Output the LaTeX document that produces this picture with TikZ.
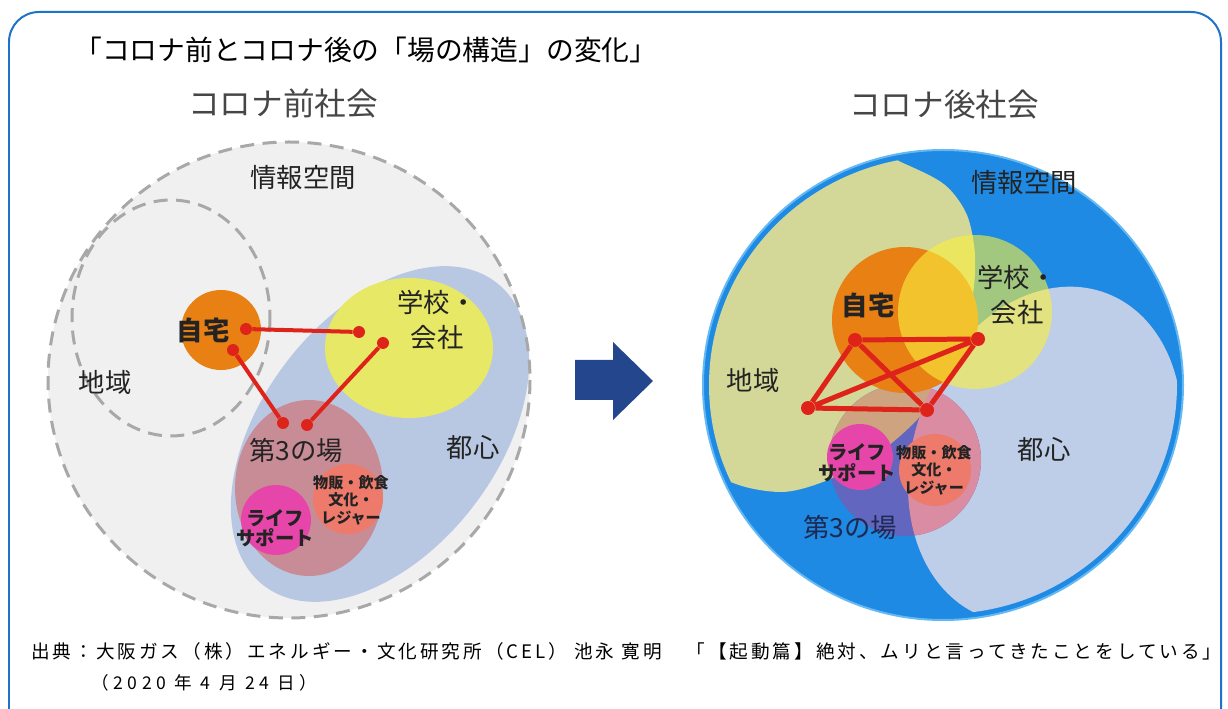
\documentclass[tikz,border=0pt]{standalone}
\usepackage{fontspec}
\setmainfont{Noto Sans CJK JP}
\usetikzlibrary{positioning}

\definecolor{framecol}{RGB}{30,115,200}
\definecolor{txtcol}{RGB}{35,35,35}
\definecolor{headcol}{RGB}{70,70,70}
\definecolor{greyfill}{RGB}{240,240,240}
\definecolor{dashcol}{RGB}{168,168,168}
\definecolor{citycol}{RGB}{185,200,226}
\definecolor{schoolcol}{RGB}{230,232,102}
\definecolor{school2col}{RGB}{250,240,60}
\definecolor{homecol}{RGB}{232,128,20}
\definecolor{thirdcol}{RGB}{200,140,150}
\definecolor{shopcol}{RGB}{238,122,108}
\definecolor{lifecol}{RGB}{230,70,170}
\definecolor{linkcol}{RGB}{222,36,26}
\definecolor{arrowcol}{RGB}{36,70,140}
\definecolor{infocol}{RGB}{30,138,228}
\definecolor{rimcol}{RGB}{100,185,242}
\definecolor{areacol}{RGB}{211,215,151}
\definecolor{city2col}{RGB}{190,205,232}
\definecolor{tancol}{RGB}{205,163,128}
\definecolor{purplecol}{RGB}{98,102,190}
\definecolor{pinkcol}{RGB}{218,140,162}
\definecolor{navycol}{RGB}{30,40,80}

% shapes used twice on the right
\newcommand\areablob{plot[smooth cycle] coordinates {(800,120) (903,163) (945,185) (967,215) (975,255) (972,300) (955,360) (923,413) (880,452) (828,480) (780,492) (723,478) (660,420) (650,300) (700,160)}}
\newcommand\cityblob{(1045,455) ellipse [x radius=173, y radius=131, rotate=69.2]}

\begin{document}
\begin{tikzpicture}[x=0.02cm,y=-0.02cm,
  lbl/.style={inner sep=0pt,text=txtcol,align=center,font=\fontsize{15}{20}\selectfont},
  boldlbl/.style={lbl,font=\fontsize{15}{20}\selectfont\bfseries},
  tinylbl/.style={lbl,font=\fontsize{8.6}{10}\selectfont\bfseries},
  lifelbl/.style={lbl,font=\fontsize{11}{10}\selectfont\bfseries},
  headlbl/.style={inner sep=0pt,text=headcol,font=\fontsize{18}{20}\selectfont},
  srclbl/.style={inner sep=0pt,anchor=west,font=\fontsize{10.6}{12}\selectfont\addfontfeatures{LetterSpace=16}},
  predot/.style={circle,fill=linkcol,inner sep=0pt,minimum size=0.24cm},
  postdot/.style={predot,minimum size=0.28cm},
  prelink/.style={draw=linkcol,line width=0.08cm},
  postlink/.style={draw=linkcol,line width=0.1cm},
  dashring/.style={draw=dashcol,line width=0.06cm,dash pattern=on 0.28cm off 0.17cm}]

\clip (0,0) rectangle (1228,709);

% frame and titles
\draw[framecol,line width=0.04cm,rounded corners=0.6cm] (9,12) rectangle (1221,740);
\node[inner sep=0pt,anchor=west,font=\fontsize{15.8}{18}\selectfont] (title) at (74,50)
  {「コロナ前とコロナ後の「場の構造」の変化」};
\node[headlbl] (preHead) at (283,103) {コロナ前社会};
\node[headlbl] (postHead) at (944,105) {コロナ後社会};

%%% before corona
\fill[greyfill] (289,380) ellipse [x radius=241, y radius=238];
\path[dashring] (171,318) ellipse [x radius=99, y radius=118];
\fill[citycol] (380,434) ellipse [x radius=191, y radius=118, rotate=52.6];
\fill[schoolcol] (409,348) ellipse [x radius=84, y radius=70];
\fill[thirdcol] (309,488) ellipse [x radius=74, y radius=88];
\fill[shopcol] (348,499) circle [radius=35];
\fill[lifecol] (276,520) circle [radius=35];
\fill[homecol] (221,330) circle [radius=40];
\path[dashring] (289,380) ellipse [x radius=241, y radius=238];

\node[lbl] (preInfo) at (303,178) {情報空間};
\node[lbl] (preArea) at (105,382) {地域};
\node[boldlbl] (preHome) at (203,330) {自宅};
\node[lbl] (preSchool) at (437,320) {学校・\\会社};
\node[lbl] (preThird) at (296,450) {第3の場};
\node[lbl] (preCity) at (473,448) {都心};
\node[tinylbl] (preShop) at (351,500) {物販・飲食\\文化・\\レジャー};
\node[lifelbl] (preLife) at (275,528) {ライフ\\サポート};

\node[predot] (preHomeA) at (246,329) {};
\node[predot] (preHomeB) at (233,350) {};
\node[predot] (preSchoolA) at (359,332) {};
\node[predot] (preSchoolB) at (383,343) {};
\node[predot] (preThirdA) at (283,423) {};
\node[predot] (preThirdB) at (307,425) {};
\path[prelink]
    (preHomeA) -- (preSchoolA)
    (preHomeB) -- (preThirdA)
    (preSchoolB) -- (preThirdB)
;

% arrow
\fill[arrowcol] (575,360) -- (613,360) -- (613,342) -- (653,381) -- (613,420) -- (613,400) -- (575,400) -- cycle;

%%% after corona
\fill[infocol] (943,385) ellipse [x radius=240, y radius=235];
\begin{scope}
  \clip (943,385) ellipse [x radius=234, y radius=229];
  \fill[areacol] \areablob;
  \fill[city2col] \cityblob;
\end{scope}
\fill[purplecol] (905,460) circle [radius=76];
\begin{scope}
  \clip (905,460) circle [radius=76];
  \fill[tancol] \areablob;
  \fill[pinkcol] \cityblob;
\end{scope}
\fill[homecol] (905,320) circle [radius=73];
\fill[school2col,fill opacity=0.6] (975,312) circle [radius=77];
\fill[lifecol] (860,457) circle [radius=33];
\fill[shopcol] (935,470) circle [radius=36];
\draw[rimcol,line width=0.04cm] (943,385) ellipse [x radius=240, y radius=235];

\node[lbl] (postInfo) at (1024,183) {情報空間};
\node[lbl] (postArea) at (753,380) {地域};
\node[boldlbl] (postHome) at (868,305) {自宅};
\node[lbl] (postSchool) at (1017,295) {学校・\\会社};
\node[lbl] (postCity) at (1044,450) {都心};
\node[lbl,text=navycol] (postThird) at (850,527) {第3の場};
\node[tinylbl] (postShop) at (934,470) {物販・飲食\\文化・\\レジャー};
\node[lifelbl,font=\fontsize{11}{12}\selectfont\bfseries] (postLife) at (857,463) {ライフ\\サポート};

\node[postdot] (postHomeDot) at (855,340) {};
\node[postdot] (postSchoolDot) at (978,339) {};
\node[postdot] (postAreaDot) at (808,408) {};
\node[postdot] (postThirdDot) at (927,410) {};
\path[postlink]
    (postHomeDot) -- (postSchoolDot) -- (postThirdDot) -- (postAreaDot) -- (postHomeDot)
    (postHomeDot) -- (postThirdDot)
    (postAreaDot) -- (postSchoolDot)
;

% source
\node[srclbl] (src) at (31,651)
  {出典：大阪ガス（株）エネルギー・文化研究所（CEL） 池永 寛明　「【起動篇】絶対、ムリと言ってきたことをしている」};
\node[srclbl,font=\addfontfeatures{LetterSpace=26}] (srcDate) at (91,683)
  {（2020 年 4 月 24 日）};

\end{tikzpicture}
\end{document}
